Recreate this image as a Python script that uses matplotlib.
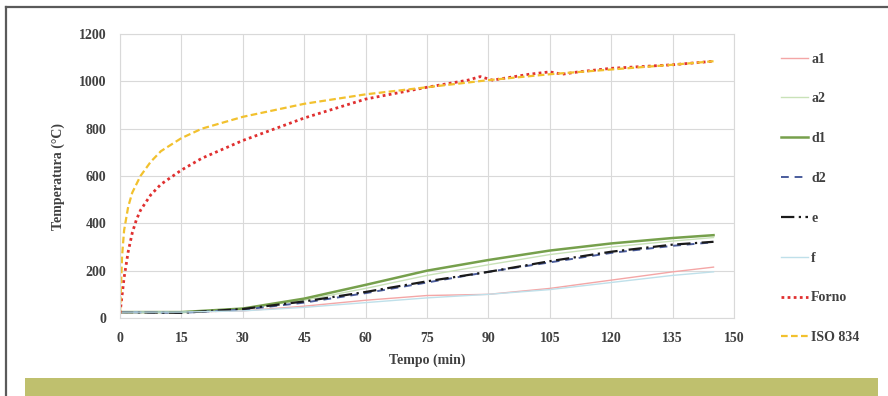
import matplotlib
matplotlib.use("Agg")
import matplotlib.pyplot as plt
from matplotlib.lines import Line2D
from matplotlib.patches import Rectangle

# ---- data ----
t_iso = [0, 0.5, 1, 2, 3, 5, 7.5, 10, 15, 20, 30, 45, 60, 75, 90, 105, 120, 135, 145]
iso834 = [20, 260, 370, 470, 530, 600, 660, 705, 760, 800, 850, 905, 945, 975, 1005, 1030, 1050, 1070, 1085]

t_forno = [0, 1, 2, 3, 4, 5, 7.5, 10, 15, 20, 30, 45, 60, 75, 85, 88, 91, 100, 105, 108, 112, 120, 135, 145]
forno = [20, 170, 280, 360, 415, 455, 520, 565, 625, 675, 750, 845, 925, 975, 1005, 1020, 1005, 1030, 1040, 1030, 1040, 1055, 1070, 1085]

t_spec = [0, 15, 30, 45, 60, 75, 90, 105, 120, 135, 145]
a1 = [25, 25, 30, 50, 75, 95, 100, 125, 160, 195, 215]
a2 = [25, 25, 40, 75, 125, 180, 225, 268, 300, 325, 340]
d1 = [25, 25, 40, 82, 140, 200, 245, 285, 315, 338, 350]
d2 = [25, 22, 35, 65, 105, 150, 195, 235, 275, 305, 320]
e = [25, 22, 38, 70, 110, 155, 195, 240, 280, 310, 322]
f = [25, 25, 30, 45, 65, 85, 100, 120, 150, 180, 195]

xticks = [0, 15, 30, 45, 60, 75, 90, 105, 120, 135, 150]
yticks = [0, 200, 400, 600, 800, 1000, 1200]

# ---- figure ----
W, H = 888, 396
fig = plt.figure(figsize=(W / 100, H / 100), dpi=100)
fig.patch.set_facecolor("white")

serif = ["Liberation Serif", "DejaVu Serif"]
txtcol = "#404040"

ax = fig.add_axes([120 / W, 1 - 318 / H, (734 - 120) / W, (318 - 34) / H])
ax.set_xlim(0, 150)
ax.set_ylim(0, 1200)
ax.set_xticks(xticks)
ax.set_yticks(yticks)
ax.grid(True, color="#d9d9d9", linewidth=0.8)
ax.set_axisbelow(True)
for s in ax.spines.values():
    s.set_color("#d9d9d9")
    s.set_linewidth(0.8)
ax.tick_params(length=0, pad=10, colors=txtcol)
for lab in ax.get_xticklabels() + ax.get_yticklabels():
    lab.set_fontfamily(serif)
    lab.set_fontweight("bold")
    lab.set_fontsize(10)

ax.plot(t_spec, a1, color="#f4a6a6", lw=1.0, label="a1")
ax.plot(t_spec, a2, color="#c9e2b8", lw=1.0, label="a2")
ax.plot(t_spec, d1, color="#76a04c", lw=1.8, label="d1")
ax.plot(t_spec, d2, color="#4a5c9c", lw=1.4, ls=(0, (4, 3)), label="d2")
ax.plot(t_spec, e, color="#1a1a1a", lw=1.6, ls=(0, (6, 2, 1, 2)), label="e")
ax.plot(t_spec, f, color="#bfe0ea", lw=1.0, label="f")
ax.plot(t_forno, forno, color="#e03030", lw=2.0, ls=(0, (1, 1.2)), label="Forno")
ax.plot(t_iso, iso834, color="#f2c12e", lw=1.6, ls=(0, (3, 1.5)), label="ISO 834")

ax.set_xlabel("Tempo (min)", fontfamily=serif, fontweight="bold", fontsize=10,
              color=txtcol, labelpad=6)
ax.set_ylabel("Temperatura (°C)", fontfamily=serif, fontweight="bold", fontsize=10,
              color=txtcol, labelpad=10)

handles, labels = ax.get_legend_handles_labels()
leg = fig.legend(handles, labels, loc="upper left",
                 bbox_to_anchor=(775 / W, 1 - 47 / H),
                 frameon=False, handlelength=2.0, handletextpad=0.2,
                 labelspacing=1.93, borderaxespad=0,
                 prop={"family": serif, "weight": "bold", "size": 10})
for txt in leg.get_texts():
    txt.set_color(txtcol)

# border lines
fig.add_artist(Line2D([6 / W, 1], [1 - 7 / H, 1 - 7 / H], color="#5a5a5a", lw=1.6,
                      transform=fig.transFigure))
fig.add_artist(Line2D([6 / W, 6 / W], [0, 1 - 7 / H], color="#5a5a5a", lw=1.6,
                      transform=fig.transFigure))
# green band at bottom
fig.add_artist(Rectangle((25 / W, 0), (878 - 25) / W, (396 - 378) / H,
                         transform=fig.transFigure, color="#bfc06e", lw=0))

fig.savefig("out.png", dpi=100)
